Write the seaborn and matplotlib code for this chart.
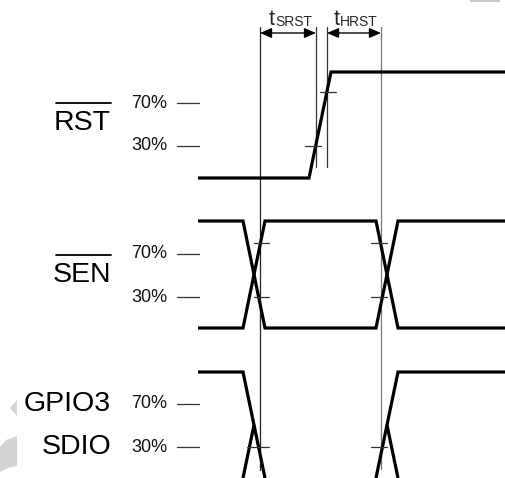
import numpy as np
import pandas as pd
import seaborn as sns
import matplotlib.pyplot as plt
from matplotlib.patches import Polygon

# waveform corner points (diagram units, y grows downward)
rst_x = [198, 309, 331, 505]
rst_y = [178, 178, 72, 72]

sen_fall_x = [198, 243, 265, 376, 398, 505]
sen_fall_y = [221, 221, 328, 328, 221, 221]
sen_rise_x = [198, 243, 265, 376, 398, 505]
sen_rise_y = [328, 328, 221, 221, 328, 328]

gpio_fall_x = [198, 243, 265]
gpio_fall_y = [372, 372, 478]
gpio_up_x = [243, 254]
gpio_up_y = [478, 425]
gpio_rise_x = [376, 398, 505]
gpio_rise_y = [478, 372, 372]
gpio_down_x = [387, 398]
gpio_down_y = [425, 478]

# timing markers
mark_x = [260, 316, 327, 381]
mark_bottom = [470, 167, 167, 469]
mark_color = ["#222222", "#333333", "#333333", "#777777"]

# threshold crossing ticks: (x0, x1, y)
cross_ticks = [(320, 336, 92), (305, 321, 146),
               (254, 269, 243), (254, 269, 297),
               (371, 387, 243), (371, 387, 297),
               (247, 269, 447), (371, 387, 447)]

# level labels
level_labels = ["70%", "30%", "70%", "30%", "70%", "30%"]
level_y = [103, 146, 254, 297, 404, 447]

signal_names = ["RST", "SEN", "GPIO3", "SDIO"]
signal_y = [123, 275, 404, 447]
overlined = [True, True, False, False]

sns.set_style("white")
plt.rcParams["font.family"] = ["Liberation Sans", "DejaVu Sans"]

fig = plt.figure(figsize=(5.05, 4.78), dpi=100)
ax = fig.add_axes([0, 0, 1, 1])
ax.set_xlim(0, 505)
ax.set_ylim(478, 0)
ax.axis("off")

# timing reference lines
for x, yb, c in zip(mark_x, mark_bottom, mark_color):
    sns.lineplot(x=[x, x], y=[27, yb], sort=False, estimator=None, color=c, lw=0.9, ax=ax)

# signals
waves = [(rst_x, rst_y), (sen_fall_x, sen_fall_y), (sen_rise_x, sen_rise_y),
         (gpio_fall_x, gpio_fall_y), (gpio_up_x, gpio_up_y),
         (gpio_rise_x, gpio_rise_y), (gpio_down_x, gpio_down_y)]
for wx, wy in waves:
    sns.lineplot(x=wx, y=wy, sort=False, estimator=None, color="black", lw=2.3,
                 ax=ax, solid_joinstyle="miter", solid_capstyle="butt")

for x0, x1, y in cross_ticks:
    sns.lineplot(x=[x0, x1], y=[y, y], sort=False, estimator=None, color="#333333", lw=0.9, ax=ax)

# level labels with dashes
for lab, y in zip(level_labels, level_y):
    ax.text(167, y, lab, ha="right", va="center", fontsize=13, color="#111111")
    sns.lineplot(x=[177, 199], y=[y, y], sort=False, estimator=None, color="#333333", lw=0.9, ax=ax)

# signal names
for name, y, ov in zip(signal_names, signal_y, overlined):
    ax.text(111, y, name, ha="right", va="center", fontsize=20.5, color="black")
    if ov:
        sns.lineplot(x=[56, 111], y=[y - 20, y - 20], sort=False, estimator=None,
                     color="black", lw=1.3, ax=ax)

# timing arrows and labels
for (xa, xb), sub, xt in [((260, 316), "SRST", 269), ((327, 381), "HRST", 334)]:
    ax.annotate("", xy=(xa, 33), xytext=(xb, 33),
                arrowprops=dict(arrowstyle="<|-|>,head_length=0.7,head_width=0.3",
                                color="black", lw=1.0, shrinkA=0, shrinkB=0))
    ax.text(xt, 25, "t", ha="left", va="baseline", fontsize=15.5)
    ax.text(xt + 6, 26, sub, ha="left", va="baseline", fontsize=10)

# faint watermark fragments
ax.add_patch(Polygon([[10, 408], [17, 400], [17, 416]], closed=True, color="#d4d4d4", lw=0))
ax.add_patch(Polygon([[0, 447], [6, 440], [17, 436], [17, 466], [8, 468], [0, 472]],
                     closed=True, color="#d4d4d4", lw=0))
ax.add_patch(Polygon([[470, 0], [500, 0], [500, 2], [470, 2]], closed=True, color="#c8c8c8", lw=0))

fig.savefig("out.png", dpi=100)
